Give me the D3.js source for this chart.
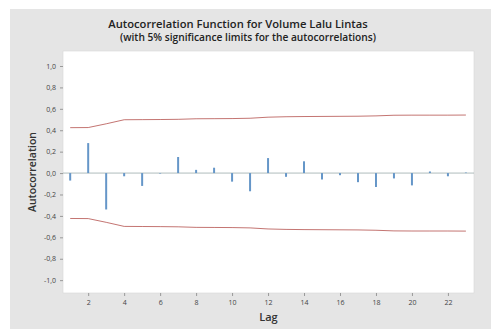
<!DOCTYPE html>
<html>
<head>
<meta charset="utf-8">
<script src="https://d3js.org/d3.v7.min.js"></script>
<style>
  body { margin: 0; background: #fff; }
  text { font-family: "Open Sans", "Noto Sans", sans-serif; }
</style>
</head>
<body>
<script>
// lags and autocorrelation values
const lags = d3.range(1, 24);
const acf = [-0.07, 0.28, -0.34, -0.03, -0.12, -0.005, 0.15, 0.03, 0.05, -0.08, -0.17,
             0.14, -0.035, 0.11, -0.06, -0.02, -0.085, -0.13, -0.05, -0.115, 0.015, -0.03, 0.005];
// 5% significance limits (upper; lower is the mirror)
const limits = [0.424, 0.425, 0.46, 0.498, 0.499, 0.500, 0.502, 0.507, 0.508, 0.509, 0.512,
                0.522, 0.526, 0.528, 0.529, 0.530, 0.531, 0.534, 0.540, 0.541, 0.541, 0.541, 0.542];
const yTicks = [1, 0.8, 0.6, 0.4, 0.2, 0, -0.2, -0.4, -0.6, -0.8, -1];
const xTicks = [2, 4, 6, 8, 10, 12, 14, 16, 18, 20, 22];

const width = 491, height = 329;
const plot = {left: 63, right: 474, top: 51, bottom: 293};

const svg = d3.select("body").append("svg")
    .attr("width", width)
    .attr("height", height);

// gray frame
svg.append("rect")
    .attr("x", 10).attr("y", 9)
    .attr("width", width - 10).attr("height", height - 9)
    .attr("fill", "#e5e5e5");

svg.append("rect")
    .attr("x", plot.left).attr("y", plot.top)
    .attr("width", plot.right - plot.left).attr("height", plot.bottom - plot.top)
    .attr("fill", "#fff")
    .attr("stroke", "#d6d6d6")
    .attr("stroke-width", 0.6);

const x = d3.scaleLinear().domain([0.6, 23.45]).range([plot.left, plot.right]);
const y = d3.scaleLinear().domain([-1.12, 1.14]).range([plot.bottom, plot.top]);

const fmt = d => d3.format(".1f")(d).replace(".", ",").replace("−", "-");

// y axis
const yAxis = svg.append("g")
    .attr("transform", `translate(${plot.left},0)`)
    .call(d3.axisLeft(y).tickValues(yTicks).tickSize(3).tickPadding(4).tickFormat(fmt));
yAxis.select(".domain").remove();
yAxis.selectAll("line").attr("stroke", "#999");
yAxis.selectAll("text").attr("fill", "#444").attr("font-size", 7).style("font-family", "'Open Sans', sans-serif");

// x axis
const xAxis = svg.append("g")
    .attr("transform", `translate(0,${plot.bottom})`)
    .call(d3.axisBottom(x).tickValues(xTicks).tickSize(3).tickPadding(4).tickFormat(d3.format("d")));
xAxis.select(".domain").remove();
xAxis.selectAll("line").attr("stroke", "#999");
xAxis.selectAll("text").attr("fill", "#444").attr("font-size", 7).style("font-family", "'Open Sans', sans-serif");

// zero line
svg.append("line")
    .attr("x1", plot.left).attr("x2", plot.right)
    .attr("y1", y(0)).attr("y2", y(0))
    .attr("stroke", "#9aa").attr("stroke-width", 0.8);

// significance limits
const limLine = d3.line().x((d, i) => x(lags[i]));
svg.append("path")
    .datum(limits)
    .attr("d", limLine.y(d => y(d)))
    .attr("fill", "none").attr("stroke", "#c47572").attr("stroke-width", 1);
svg.append("path")
    .datum(limits)
    .attr("d", limLine.y(d => y(-d)))
    .attr("fill", "none").attr("stroke", "#c47572").attr("stroke-width", 1);

// acf spikes
svg.append("g")
  .selectAll("line")
  .data(acf)
  .join("line")
    .attr("x1", (d, i) => x(lags[i]))
    .attr("x2", (d, i) => x(lags[i]))
    .attr("y1", y(0))
    .attr("y2", d => y(d))
    .attr("stroke", "#6596c8")
    .attr("stroke-width", 2);

// titles
svg.append("text")
    .attr("x", 238).attr("y", 28)
    .attr("text-anchor", "middle")
    .attr("font-size", 11.2).attr("font-weight", 600).attr("fill", "#222")
    .text("Autocorrelation Function for Volume Lalu Lintas");
svg.append("text")
    .attr("x", 248).attr("y", 41)
    .attr("text-anchor", "middle")
    .attr("font-size", 10.2).attr("font-weight", 600).attr("fill", "#222")
    .text("(with 5% significance limits for the autocorrelations)");

svg.append("text")
    .attr("transform", `translate(36,${(plot.top + plot.bottom) / 2}) rotate(-90)`)
    .attr("text-anchor", "middle")
    .attr("font-size", 10.5).attr("font-weight", 600).attr("fill", "#333")
    .text("Autocorrelation");
svg.append("text")
    .attr("x", (plot.left + plot.right) / 2).attr("y", 321)
    .attr("text-anchor", "middle")
    .attr("font-size", 11).attr("font-weight", 600).attr("fill", "#333")
    .text("Lag");
</script>
</body>
</html>
